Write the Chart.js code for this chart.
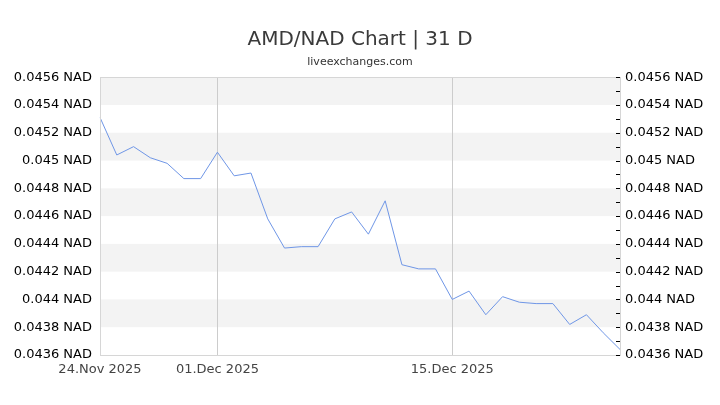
<!DOCTYPE html>
<html>
<head>
<meta charset="utf-8">
<script src="https://cdn.jsdelivr.net/npm/chart.js"></script>
<style>
  html, body { margin: 0; padding: 0; background: #fff; }
  #wrap { width: 720px; height: 405px; }
</style>
</head>
<body>
<div id="wrap"><canvas id="rateChart"></canvas></div>
<script>
const dates = [
  "24.Nov 2025", "25.Nov 2025", "26.Nov 2025", "27.Nov 2025", "28.Nov 2025", "29.Nov 2025", "30.Nov 2025",
  "01.Dec 2025", "02.Dec 2025", "03.Dec 2025", "04.Dec 2025", "05.Dec 2025", "06.Dec 2025", "07.Dec 2025",
  "08.Dec 2025", "09.Dec 2025", "10.Dec 2025", "11.Dec 2025", "12.Dec 2025", "13.Dec 2025", "14.Dec 2025",
  "15.Dec 2025", "16.Dec 2025", "17.Dec 2025", "18.Dec 2025", "19.Dec 2025", "20.Dec 2025", "21.Dec 2025",
  "22.Dec 2025", "23.Dec 2025", "24.Dec 2025", "25.Dec 2025"
];

const rates = [
  0.04531, 0.04504, 0.04510, 0.04502, 0.04498, 0.04487, 0.04487,
  0.04506, 0.04489, 0.04491, 0.04458, 0.04437, 0.04438, 0.04438,
  0.04458, 0.04463, 0.04447, 0.04471, 0.04425, 0.04422, 0.04422,
  0.04400, 0.04406, 0.04389, 0.04402, 0.04398, 0.04397, 0.04397,
  0.04382, 0.04389, 0.04376, 0.04364
];

const xTickLabels = ["24.Nov 2025", "01.Dec 2025", "15.Dec 2025"];
const yMin = 0.0436;
const yMax = 0.0456;
const yStep = 0.0002;

const fmt = v => Number(v.toFixed(4)) + " NAD";

// grey bands + border + small right ticks
const bandsPlugin = {
  id: "bands",
  beforeDatasetsDraw(chart) {
    const { ctx, chartArea: a, scales } = chart;
    const y = scales.y;
    ctx.save();
    ctx.fillStyle = "#f3f3f3";
    let n = 0;
    for (let v = yMax; v > yMin + 1e-9; v -= yStep) {
      if (n % 2 === 0) {
        const top = y.getPixelForValue(v);
        const bot = y.getPixelForValue(v - yStep);
        ctx.fillRect(a.left, top, a.right - a.left, bot - top);
      }
      n++;
    }
    // vertical grid lines on labelled dates
    const x = scales.x;
    ctx.strokeStyle = "#cccccc";
    ctx.lineWidth = 1;
    xTickLabels.slice(1).forEach(lbl => {
      const px = Math.round(x.getPixelForValue(dates.indexOf(lbl))) + 0.5;
      ctx.beginPath();
      ctx.moveTo(px, a.top);
      ctx.lineTo(px, a.bottom);
      ctx.stroke();
    });
    ctx.restore();
  },
  afterDraw(chart) {
    const { ctx, chartArea: a, scales } = chart;
    ctx.save();
    ctx.strokeStyle = "#d6d6d6";
    ctx.lineWidth = 1;
    ctx.strokeRect(Math.round(a.left) + 0.5, Math.round(a.top) + 0.5,
      Math.round(a.right - a.left), Math.round(a.bottom - a.top));
    ctx.strokeStyle = "#000";
    for (let v = yMin; v <= yMax + 1e-9; v += yStep / 2) {
      const py = Math.round(scales.y1.getPixelForValue(v)) + 0.5;
      ctx.beginPath();
      ctx.moveTo(a.right - 4, py);
      ctx.lineTo(a.right, py);
      ctx.stroke();
    }
    ctx.restore();
  }
};

const yTicks = {
  min: yMin,
  max: yMax,
  grid: { display: false, drawTicks: false },
  border: { display: false },
};

new Chart(document.getElementById("rateChart"), {
  type: "line",
  data: {
    labels: dates,
    datasets: [{
      data: rates,
      borderColor: "#6f96e6",
      borderWidth: 1,
      pointRadius: 0,
      tension: 0,
      fill: false
    }]
  },
  options: {
    responsive: true,
    maintainAspectRatio: false,
    animation: false,
    layout: { padding: 0 },
    plugins: {
      legend: { display: false },
      tooltip: { enabled: false },
      title: {
        display: true,
        text: "AMD/NAD Chart | 31 D",
        color: "#3a3a3a",
        font: { family: "DejaVu Sans", size: 20, weight: "normal" },
        padding: { top: 28, bottom: 4 }
      },
      subtitle: {
        display: true,
        text: "liveexchanges.com",
        color: "#333",
        font: { family: "DejaVu Sans", size: 11 },
        padding: { top: 0, bottom: 8 }
      }
    },
    scales: {
      x: {
        type: "category",
        offset: false,
        grid: { display: false, drawTicks: false },
        border: { display: false },
        ticks: {
          autoSkip: false,
          maxRotation: 0,
          padding: 7,
          color: "#444",
          font: { family: "DejaVu Sans", size: 13 },
          callback: function (val) {
            const lbl = this.getLabelForValue(val);
            return xTickLabels.includes(lbl) ? lbl : "";
          }
        },
        afterFit: s => { s.height = 50; }
      },
      y: {
        ...yTicks,
        position: "left",
        ticks: {
          stepSize: yStep,
          padding: 8,
          color: "#000",
          font: { family: "DejaVu Sans", size: 13 },
          callback: v => fmt(v)
        },
        afterFit: s => { s.width = 100; }
      },
      y1: {
        ...yTicks,
        position: "right",
        ticks: {
          stepSize: yStep,
          padding: 5,
          color: "#000",
          font: { family: "DejaVu Sans", size: 13 },
          callback: v => fmt(v)
        },
        afterFit: s => { s.width = 100; }
      }
    }
  },
  plugins: [bandsPlugin]
});
</script>
</body>
</html>
